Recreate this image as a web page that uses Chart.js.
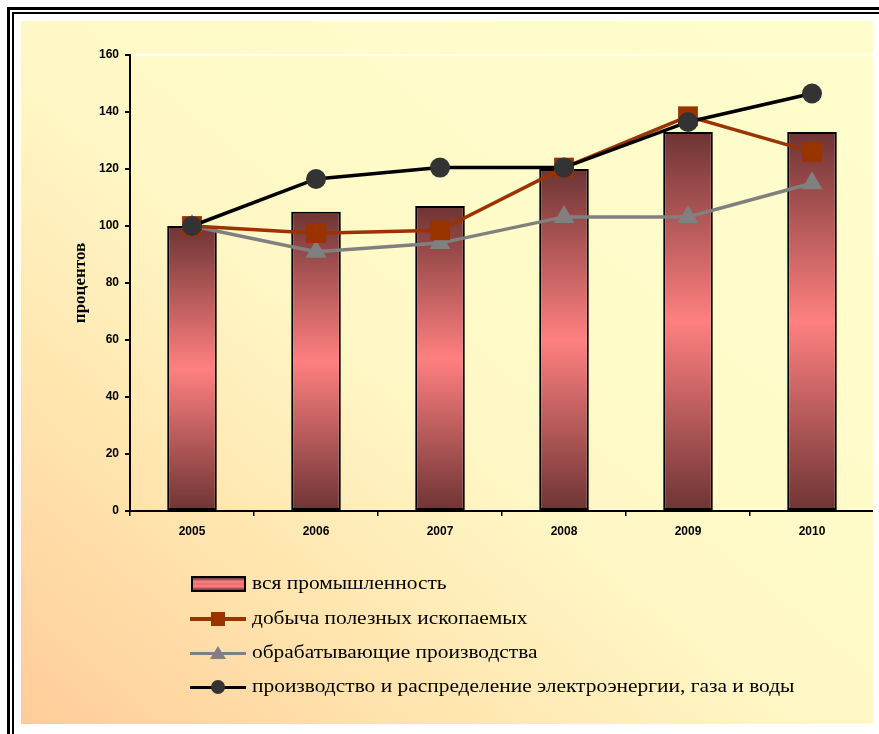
<!DOCTYPE html>
<html><head><meta charset="utf-8">
<script src="https://cdn.jsdelivr.net/npm/chart.js@4"></script>
<style>
html,body{margin:0;padding:0;background:#fff;width:879px;height:734px;overflow:hidden;}
body{position:relative;}
#f1{position:absolute;left:7px;top:7px;width:900px;height:800px;border-left:3px solid #000;border-top:3px solid #000;}
#f2{position:absolute;left:12px;top:12px;width:900px;height:800px;border-left:2px solid #000;border-top:2px solid #000;}
#panel{position:absolute;left:21px;top:21px;width:852px;height:703px;overflow:hidden;background:linear-gradient(to top right,#FFCC99 0%,#FFE2AC 22%,#FFF6C4 45%,#FFFBC9 60%,#FFFDCC 100%);}
#c{position:absolute;left:0;top:0;}
#legend{position:absolute;left:0;top:0;font-family:"Liberation Serif","Times New Roman",serif;font-size:18px;color:#000;}
.row{position:absolute;left:169px;height:20px;white-space:nowrap;}
.mk{position:absolute;left:0;top:0;width:58px;height:20px;}
.txt{position:absolute;left:62px;top:-2px;line-height:22px;transform:scaleX(1.19);transform-origin:0 50%;}
</style>
</head>
<body>
<div id="f1"></div><div id="f2"></div>
<div id="panel">
<canvas id="c" width="867" height="703"></canvas>
<div id="legend"></div>
</div>
<script>
const years = ['2005', '2006', '2007', '2008', '2009', '2010'];
const seriesNames = ['вся промышленность', 'добыча полезных ископаемых', 'обрабатывающие производства', 'производство и распределение электроэнергии, газа и воды'];
const allIndustry = [100, 105, 107, 120, 133, 133];
const mining = [100, 97.5, 98.5, 120.5, 138.5, 126];
const manufacturing = [100, 91, 94, 103.2, 103.2, 115];
const utilities = [100, 116.5, 120.5, 120.5, 136.5, 146.5];
const yTicks = [0, 20, 40, 60, 80, 100, 120, 140, 160];
const yTitle = 'процентов';

const barDark = '#6E3434', barLight = '#FF8080';
const mineCol = '#993300', manCol = '#808080', utilLine = '#000000', utilPt = '#333333';

function barFill(ctx) {
  const chart = ctx.chart;
  if (!chart.chartArea || ctx.type !== 'data') return barLight;
  const y = chart.scales.y;
  const top = y.getPixelForValue(ctx.raw), bot = y.getPixelForValue(0);
  const g = chart.ctx.createLinearGradient(0, top, 0, bot);
  g.addColorStop(0, barDark);
  g.addColorStop(0.5, barLight);
  g.addColorStop(1, barDark);
  return g;
}

const tickFont = {family: '"Liberation Sans", Arial, sans-serif', weight: 'bold', size: 12};

new Chart(document.getElementById('c'), {
  type: 'bar',
  data: {
    labels: years,
    datasets: [
      {type: 'line', label: seriesNames[3], data: utilities, order: 1, borderColor: utilLine, borderWidth: 3.5, backgroundColor: utilPt,
        pointStyle: 'circle', pointRadius: 10, pointHoverRadius: 10, pointBackgroundColor: utilPt, pointBorderColor: utilPt, pointBorderWidth: 0, tension: 0, fill: false},
      {type: 'line', label: seriesNames[1], data: mining, order: 2, borderColor: mineCol, borderWidth: 3.5, backgroundColor: mineCol,
        pointStyle: 'rect', pointRadius: 14, pointHoverRadius: 14, pointBackgroundColor: mineCol, pointBorderColor: mineCol, pointBorderWidth: 0, tension: 0, fill: false},
      {type: 'line', label: seriesNames[2], data: manufacturing, order: 3, borderColor: manCol, borderWidth: 3.5, backgroundColor: manCol,
        pointStyle: 'triangle', pointRadius: 12, pointHoverRadius: 12, pointBackgroundColor: manCol, pointBorderColor: manCol, pointBorderWidth: 0, tension: 0, fill: false},
      {type: 'bar', label: seriesNames[0], data: allIndustry, order: 4, backgroundColor: barFill, borderColor: '#000', borderWidth: 2,
        borderSkipped: false, barPercentage: 0.4, categoryPercentage: 1}
    ]
  },
  options: {
    responsive: false,
    animation: false,
    devicePixelRatio: 1,
    layout: {padding: {top: 34, left: 0, right: 0, bottom: 0}},
    plugins: {legend: {display: false}, tooltip: {enabled: false}},
    scales: {
      x: {
        offset: true,
        grid: {offset: true, drawOnChartArea: false, drawTicks: true, tickLength: 5, color: '#000', lineWidth: 1.5},
        border: {display: true, color: '#000', width: 2},
        ticks: {font: tickFont, color: '#000', padding: 8, maxRotation: 0},
        afterFit: s => { s.height = 213; }
      },
      y: {
        min: 0, max: 160,
        afterBuildTicks: s => { s.ticks = yTicks.map(v => ({value: v})); },
        grid: {color: c => (c.tick && c.tick.value === 160) ? '#ffffff' : 'rgba(0,0,0,0)', tickColor: '#000', tickLength: 5, lineWidth: 2},
        border: {display: true, color: '#000', width: 2},
        ticks: {font: tickFont, color: '#000', padding: 6},
        title: {display: true, text: yTitle, color: '#000', font: {family: '"Liberation Serif", "Times New Roman", serif', weight: 'bold', size: 17}, padding: {top: 49, bottom: 0}},
        afterFit: s => { s.width = 109; }
      }
    }
  }
});

// HTML legend
const legendRows = [
  {name: seriesNames[0], kind: 'bar'},
  {name: seriesNames[1], kind: 'rect', color: mineCol, line: mineCol},
  {name: seriesNames[2], kind: 'tri', color: manCol, line: manCol},
  {name: seriesNames[3], kind: 'circle', color: utilPt, line: utilLine}
];
const rowCenters = [563, 597.5, 632, 666];
const lg = document.getElementById('legend');
legendRows.forEach((r, i) => {
  const row = document.createElement('div');
  row.className = 'row';
  row.style.top = (rowCenters[i] - 10) + 'px';
  const mk = document.createElement('div');
  mk.className = 'mk';
  if (r.kind === 'bar') {
    mk.innerHTML = '<div style="position:absolute;left:1px;top:2px;width:51px;height:12px;border:2px solid #000;background:linear-gradient(to bottom,' + barDark + ' 0%,' + barLight + ' 30%,#E86A6A 50%,' + barLight + ' 70%,' + barDark + ' 100%);"></div>';
  } else {
    let m = '<div style="position:absolute;left:0;top:8.5px;width:56px;height:3.5px;background:' + r.line + ';"></div>';
    if (r.kind === 'rect') m += '<div style="position:absolute;left:21px;top:3px;width:14px;height:14px;background:' + r.color + ';"></div>';
    if (r.kind === 'circle') m += '<div style="position:absolute;left:21px;top:3px;width:14px;height:14px;border-radius:50%;background:' + r.color + ';"></div>';
    if (r.kind === 'tri') m += '<div style="position:absolute;left:20px;top:3px;width:0;height:0;border-left:8px solid transparent;border-right:8px solid transparent;border-bottom:13px solid ' + r.color + ';"></div>';
    mk.innerHTML = m;
  }
  const t = document.createElement('div');
  t.className = 'txt';
  t.textContent = r.name;
  row.appendChild(mk);
  row.appendChild(t);
  lg.appendChild(row);
});
</script>
</body></html>
